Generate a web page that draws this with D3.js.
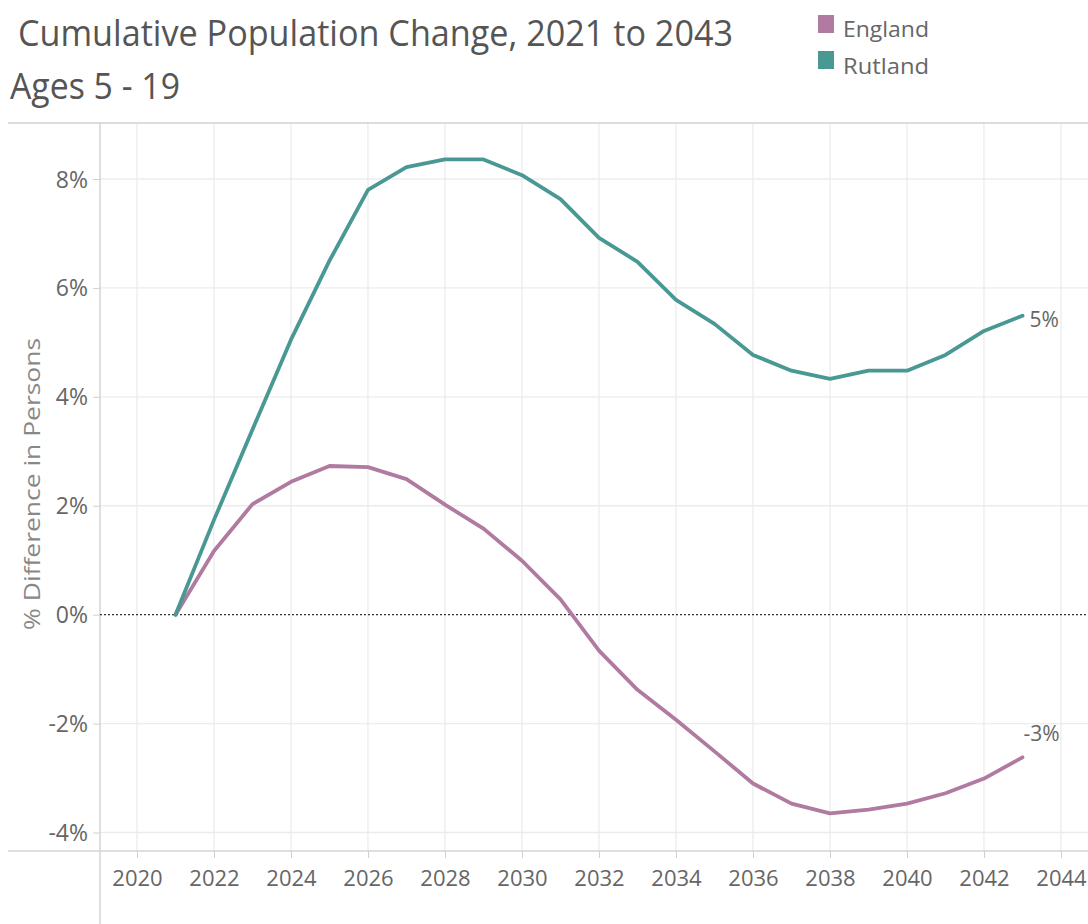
<!DOCTYPE html>
<html><head><meta charset="utf-8">
<script src="https://cdn.jsdelivr.net/npm/d3@7"></script>
<style>body{margin:0;background:#fff;} svg{display:block;font-family:"Open Sans",sans-serif;}</style>
</head><body>
<svg id="c" width="1088" height="924"></svg>
<script>
const years = [2021,2022,2023,2024,2025,2026,2027,2028,2029,2030,2031,2032,2033,2034,2035,2036,2037,2038,2039,2040,2041,2042,2043];
const rutland = [0,1.74,3.4,5.05,6.5,7.8,8.22,8.36,8.36,8.07,7.63,6.92,6.48,5.78,5.34,4.77,4.48,4.33,4.48,4.48,4.77,5.21,5.49];
const england = [0,1.17,2.03,2.44,2.73,2.71,2.49,2.02,1.58,0.99,0.28,-0.66,-1.38,-1.93,-2.51,-3.1,-3.47,-3.65,-3.58,-3.47,-3.28,-3.01,-2.62];
const xTicks = [2020,2022,2024,2026,2028,2030,2032,2034,2036,2038,2040,2042,2044];
const yTicks = [-4,-2,0,2,4,6,8];
const seriesNames = ["England","Rutland"];
const seriesColors = ["#b07aa1","#499894"];
const endLabels = ["-3%","5%"];

const svg = d3.select("#c");
const x = d3.scaleLinear().domain([2020,2044]).range([137,1061]);
const y = d3.scaleLinear().domain([-4,8]).range([832.5,179]);
const L = 100, R = 1088, T = 123, B = 851;

// grid
svg.append("g").selectAll("line").data(yTicks).join("line")
  .attr("x1",L).attr("x2",R).attr("y1",d=>y(d)).attr("y2",d=>y(d))
  .attr("stroke",d=>d===0?"none":"#ececec").attr("stroke-width",1.3);
svg.append("g").selectAll("line").data(xTicks).join("line")
  .attr("x1",d=>x(d)).attr("x2",d=>x(d)).attr("y1",T).attr("y2",B)
  .attr("stroke","#ececec").attr("stroke-width",1.3);

// frame lines
svg.append("line").attr("x1",8).attr("x2",R).attr("y1",T).attr("y2",T).attr("stroke","#dcdcdc").attr("stroke-width",2);
svg.append("line").attr("x1",8).attr("x2",R).attr("y1",B).attr("y2",B).attr("stroke","#d4d4d4").attr("stroke-width",1.5);
svg.append("line").attr("x1",L).attr("x2",L).attr("y1",T).attr("y2",924).attr("stroke","#d4d4d4").attr("stroke-width",1.5);

// zero line
svg.append("line").attr("x1",L).attr("x2",R).attr("y1",y(0)).attr("y2",y(0))
  .attr("stroke","#333").attr("stroke-width",1.2).attr("stroke-dasharray","2,2");

// y axis
const ya = svg.append("g").attr("transform",`translate(${L},0)`)
  .call(d3.axisLeft(y).tickValues(yTicks).tickFormat(d=>d+"%").tickSize(7).tickPadding(5));
ya.select(".domain").remove();
ya.selectAll("line").attr("stroke","#d0d0d0");
ya.selectAll("text").attr("fill","#666").attr("font-size",23).attr("font-family","'Open Sans',sans-serif").attr("dy","0.35em");

// x axis
const xa = svg.append("g").attr("transform",`translate(0,${B})`)
  .call(d3.axisBottom(x).tickValues(xTicks).tickFormat(d3.format("d")).tickSize(7).tickPadding(12));
xa.select(".domain").remove();
xa.selectAll("line").attr("stroke","#d0d0d0");
xa.selectAll("text").attr("fill","#666").attr("font-size",22).attr("font-family","'Open Sans',sans-serif");

// axis title
svg.append("text").attr("transform","translate(40,484) rotate(-90)")
  .attr("text-anchor","middle").attr("fill","#888").attr("font-size",22)
  .attr("textLength",292).attr("lengthAdjust","spacingAndGlyphs")
  .text("% Difference in Persons");

// lines
const line = d3.line().x((d,i)=>x(years[i])).y(d=>y(d)).curve(d3.curveLinear);
const data = [england, rutland];
data.forEach((s,k)=>{
  svg.append("path").datum(s).attr("d",line).attr("fill","none")
    .attr("stroke",seriesColors[k]).attr("stroke-width",3.8)
    .attr("stroke-linejoin","round").attr("stroke-linecap","round");
});

// end labels
svg.append("text").attr("x",x(2043)+7).attr("y",y(rutland[22])+11).attr("fill","#666").attr("font-size",21).text(endLabels[1]);
svg.append("text").attr("x",x(2043)+1).attr("y",y(england[22])-16).attr("fill","#666").attr("font-size",21).text(endLabels[0]);

// title
svg.append("text").attr("x",18).attr("y",46).attr("fill","#555").attr("font-size",36)
  .attr("textLength",715).attr("lengthAdjust","spacingAndGlyphs")
  .text("Cumulative Population Change, 2021 to 2043");
svg.append("text").attr("x",10).attr("y",99).attr("fill","#555").attr("font-size",36)
  .attr("textLength",170).attr("lengthAdjust","spacingAndGlyphs")
  .text("Ages 5 - 19");

// legend
seriesNames.forEach((n,i)=>{
  svg.append("rect").attr("x",818).attr("y",15+i*36).attr("width",16).attr("height",18).attr("fill",seriesColors[i]);
  svg.append("text").attr("x",843).attr("y",37+i*37).attr("fill","#666").attr("font-size",21)
    .attr("textLength",86).attr("lengthAdjust","spacingAndGlyphs").text(n);
});
</script>
</body></html>
